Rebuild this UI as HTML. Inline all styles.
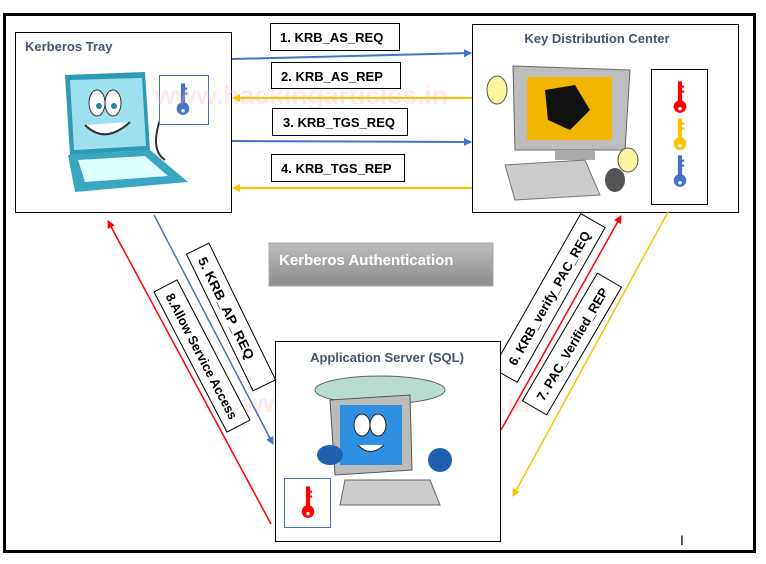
<!DOCTYPE html>
<html><head><meta charset="utf-8"><style>
html,body{margin:0;padding:0;background:#fff;}
svg{display:block;font-family:"Liberation Sans",sans-serif;}
</style></head><body>
<svg width="766" height="564" viewBox="0 0 766 564" xmlns="http://www.w3.org/2000/svg">
<defs>
<marker id="ab" markerWidth="8" markerHeight="8" refX="7" refY="4" orient="auto" markerUnits="userSpaceOnUse"><path d="M0,0 L8,4 L0,8 z" fill="#4472c4"/></marker>
<marker id="ao" markerWidth="8" markerHeight="8" refX="7" refY="4" orient="auto" markerUnits="userSpaceOnUse"><path d="M0,0 L8,4 L0,8 z" fill="#ffc000"/></marker>
<marker id="ar" markerWidth="8" markerHeight="8" refX="7" refY="4" orient="auto" markerUnits="userSpaceOnUse"><path d="M0,0 L8,4 L0,8 z" fill="#ff0000"/></marker>
<linearGradient id="g" x1="0" y1="0" x2="0" y2="1"><stop offset="0" stop-color="#bdbdbd"/><stop offset="1" stop-color="#8c8c8c"/></linearGradient>
<symbol id="key" viewBox="0 0 20 50"><rect x="7" y="2" width="6" height="30" fill="currentColor"/><rect x="12" y="8" width="4" height="3" fill="currentColor"/><rect x="12" y="15" width="4" height="3" fill="currentColor"/><circle cx="10" cy="38" r="9" fill="currentColor"/><circle cx="10" cy="41" r="2.5" fill="#fff"/></symbol>
</defs>
<rect x="4.5" y="14.5" width="750" height="537" fill="none" stroke="#000" stroke-width="3"/>

<!-- Kerberos Tray -->
<rect x="15.5" y="32.5" width="216" height="180" fill="#fff" stroke="#000"/>
<text x="25" y="51" font-size="13" font-weight="bold" fill="#44546a">Kerberos Tray</text>
<polygon points="65,75 145,72 150,150 70,155" fill="#2e9ab5"/>
<polygon points="70,80 142,78 146,146 74,150" fill="#9ee0f0"/>
<ellipse cx="97" cy="103" rx="8" ry="13" fill="#fff" stroke="#333"/>
<ellipse cx="113" cy="103" rx="8" ry="13" fill="#fff" stroke="#333"/>
<circle cx="99" cy="106" r="3" fill="#2a7fa0"/><circle cx="114" cy="106" r="3" fill="#2a7fa0"/>
<path d="M85,125 Q105,145 130,122" fill="#fff" stroke="#333" stroke-width="2"/>
<polygon points="68,155 150,150 188,182 75,192" fill="#3aa6c0"/>
<polygon points="78,160 145,156 168,176 85,182" fill="#dff"/>
<path d="M160,120 Q150,150 165,160" fill="none" stroke="#333" stroke-width="2"/>
<rect x="159.5" y="75.5" width="49" height="49" fill="#fff" stroke="#4472c4"/>
<use href="#key" x="176" y="82" width="14" height="35" style="color:#4472c4"/>

<!-- KDC -->
<rect x="472.5" y="24.5" width="266" height="188" fill="#fff" stroke="#000"/>
<text x="597" y="43" font-size="13" font-weight="bold" fill="#44546a" text-anchor="middle">Key Distribution Center</text>
<polygon points="513,66 630,70 625,150 515,150" fill="#bdbdbd" stroke="#666"/>
<rect x="527" y="77" width="85" height="63" fill="#f2b600"/>
<path d="M545,90 L575,85 L590,110 L570,130 L548,120 z" fill="#111"/>
<rect x="555" y="150" width="40" height="10" fill="#aaa"/>
<polygon points="505,165 585,160 600,195 515,200" fill="#ccc" stroke="#777"/>
<ellipse cx="615" cy="180" rx="10" ry="12" fill="#555"/>
<ellipse cx="497" cy="90" rx="10" ry="14" fill="#fff7a0" stroke="#555"/>
<ellipse cx="628" cy="160" rx="10" ry="12" fill="#fff7a0" stroke="#555"/>
<rect x="651.5" y="69.5" width="56" height="135" fill="#fff" stroke="#000"/>
<use href="#key" x="673" y="80" width="14" height="35" style="color:#ff0000"/>
<use href="#key" x="673" y="117" width="14" height="35" style="color:#ffc000"/>
<use href="#key" x="673" y="154" width="14" height="35" style="color:#4472c4"/>

<!-- watermark -->
<text x="155" y="104" font-size="26" font-weight="bold" fill="#ffb3b3" fill-opacity="0.3" textLength="293" lengthAdjust="spacingAndGlyphs">www.hackingarticles.in</text>
<text x="243" y="412" font-size="26" font-weight="bold" fill="#ffb3b3" fill-opacity="0.3" textLength="287" lengthAdjust="spacingAndGlyphs">www.hackingarticles.in</text>

<!-- horizontal arrows -->
<line x1="232" y1="59" x2="471" y2="53" stroke="#4472c4" stroke-width="2" marker-end="url(#ab)"/>
<line x1="472" y1="98" x2="233" y2="98" stroke="#ffc000" stroke-width="2" marker-end="url(#ao)"/>
<line x1="232" y1="141" x2="471" y2="142" stroke="#4472c4" stroke-width="2" marker-end="url(#ab)"/>
<line x1="472" y1="188" x2="233" y2="188" stroke="#ffc000" stroke-width="2" marker-end="url(#ao)"/>

<g font-size="13" font-weight="bold" fill="#000">
<rect x="270.5" y="23.5" width="129" height="27" fill="#fff" stroke="#000"/><text x="280" y="42">1. KRB_AS_REQ</text>
<rect x="271.5" y="62.5" width="129" height="26" fill="#fff" stroke="#000"/><text x="281" y="81">2. KRB_AS_REP</text>
<rect x="272.5" y="108.5" width="135" height="27" fill="#fff" stroke="#000"/><text x="283" y="127">3. KRB_TGS_REQ</text>
<rect x="271.5" y="154.5" width="133" height="27" fill="#fff" stroke="#000"/><text x="281" y="173">4. KRB_TGS_REP</text>
</g>

<!-- Kerberos Authentication -->
<rect x="269" y="243" width="224" height="43" fill="url(#g)" stroke="#aaa"/>
<text x="279" y="265" font-size="15" font-weight="bold" fill="#fff">Kerberos Authentication</text>

<!-- diagonal lines -->
<line x1="154" y1="215" x2="273" y2="444" stroke="#4472c4" stroke-width="1.5" marker-end="url(#ab)"/>
<line x1="271" y1="524" x2="108" y2="221" stroke="#ff0000" stroke-width="1.5" marker-end="url(#ar)"/>
<line x1="501" y1="430" x2="621" y2="216" stroke="#ff0000" stroke-width="1.5" marker-end="url(#ar)"/>
<line x1="668" y1="212" x2="513" y2="496" stroke="#ffc000" stroke-width="1.5" marker-end="url(#ao)"/>

<!-- rotated labels -->
<g font-size="13" font-weight="bold">
<g transform="translate(231,317) rotate(64)"><rect x="-76" y="-12.5" width="152" height="25" fill="#fff" stroke="#000"/><text x="-66" y="5" textLength="112" lengthAdjust="spacingAndGlyphs">5. KRB_AP_REQ</text></g>
<g transform="translate(202,356) rotate(62.5)"><rect x="-79" y="-13" width="158" height="26" fill="#fff" stroke="#000"/><text x="-70" y="5" textLength="140" lengthAdjust="spacingAndGlyphs">8.Allow Service Access</text></g>
<g transform="translate(549,298) rotate(-60.4)"><rect x="-89" y="-14" width="178" height="28" fill="#fff" stroke="#000"/><text x="-76" y="5" textLength="152" lengthAdjust="spacingAndGlyphs">6. KRB_verify_PAC_REQ</text></g>
<g transform="translate(572,344) rotate(-59.6)"><rect x="-74" y="-14" width="148" height="28" fill="#fff" stroke="#000"/><text x="-64" y="5" textLength="128" lengthAdjust="spacingAndGlyphs">7. PAC_Verified_REP</text></g>
</g>

<!-- Application server -->
<rect x="275.5" y="341.5" width="225" height="200" fill="#fff" stroke="#000"/>
<text x="387" y="362" font-size="13" font-weight="bold" fill="#44546a" text-anchor="middle">Application Server (SQL)</text>
<ellipse cx="380" cy="390" rx="65" ry="14" fill="#b7dcd0" stroke="#666"/>
<polygon points="330,400 410,395 412,470 335,475" fill="#bbb" stroke="#555"/>
<rect x="340" y="405" width="62" height="60" fill="#2f8fe0"/>
<ellipse cx="362" cy="425" rx="8" ry="11" fill="#fff" stroke="#222"/>
<ellipse cx="378" cy="425" rx="8" ry="11" fill="#fff" stroke="#222"/>
<path d="M358,445 Q370,458 384,445" fill="#fff" stroke="#222"/>
<ellipse cx="330" cy="455" rx="13" ry="10" fill="#2060b0"/>
<ellipse cx="440" cy="460" rx="12" ry="12" fill="#2060b0"/>
<polygon points="345,480 430,480 440,505 340,505" fill="#ccc" stroke="#666"/>
<rect x="284.5" y="478.5" width="46" height="49" fill="#fff" stroke="#4472c4"/>
<use href="#key" x="301" y="485" width="14" height="35" style="color:#ff0000"/>

<text x="680" y="545" font-size="14" fill="#000">I</text>
</svg>
</body></html>
